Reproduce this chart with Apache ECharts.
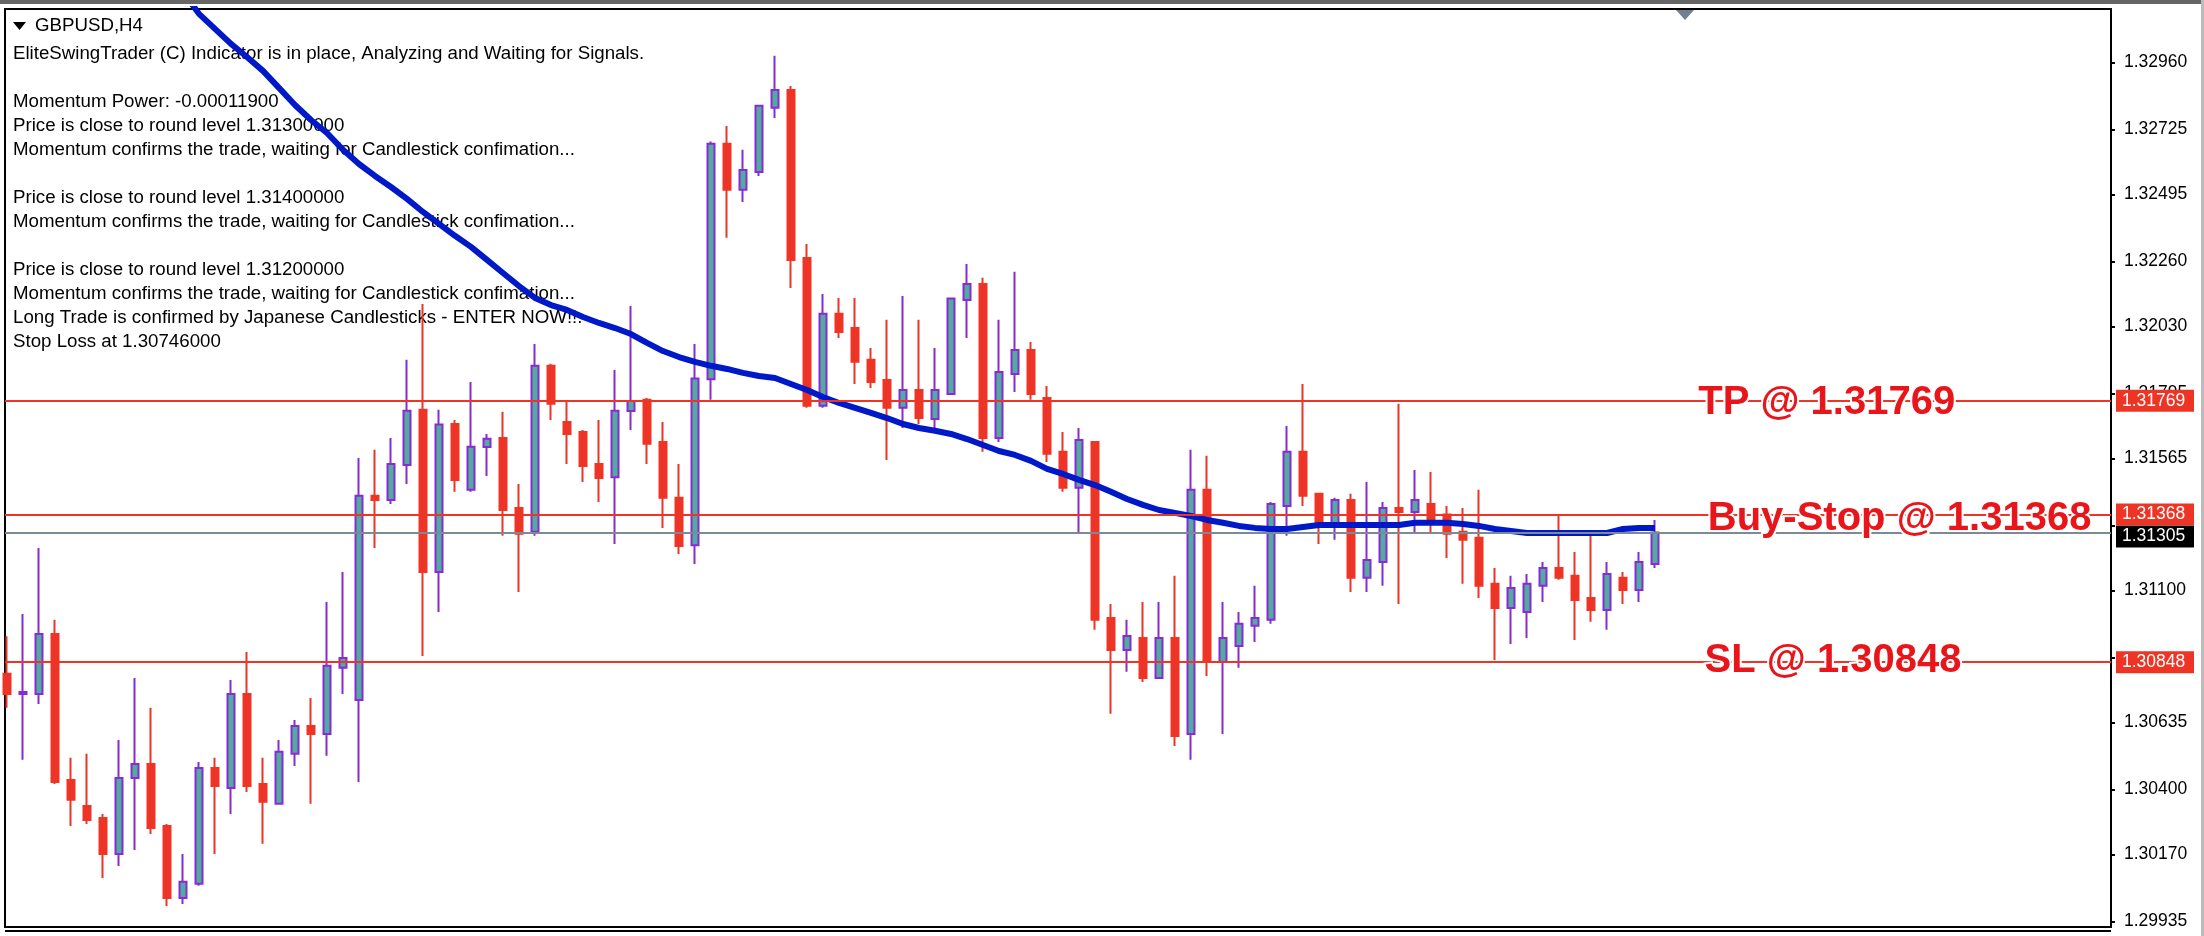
<!DOCTYPE html>
<html><head><meta charset="utf-8">
<style>html,body{margin:0;padding:0;background:#fff}#c{width:2204px;height:936px}</style>
<script src="https://cdn.jsdelivr.net/npm/echarts@6/dist/echarts.min.js"></script>
</head><body><div id="c"></div>
<script>
const symbolTitle = "GBPUSD,H4";
const statusLines = [
"EliteSwingTrader (C) Indicator is in place, Analyzing and Waiting for Signals.",
"",
"Momentum Power: -0.00011900",
"Price is close to round level 1.31300000",
"Momentum confirms the trade, waiting for Candlestick confimation...",
"",
"Price is close to round level 1.31400000",
"Momentum confirms the trade, waiting for Candlestick confimation...",
"",
"Price is close to round level 1.31200000",
"Momentum confirms the trade, waiting for Candlestick confimation...",
"Long Trade is confirmed by Japanese Candlesticks - ENTER NOW!!.",
"Stop Loss at 1.30746000"
];
const tickValues = [1.32960,1.32725,1.32495,1.32260,1.32030,1.31795,1.31565,1.31330,1.31100,1.30865,1.30635,1.30400,1.30170,1.29935];
const tickLabels = [1.32960,1.32725,1.32495,1.32260,1.32030,1.31795,1.31565,1.31100,1.30635,1.30400,1.30170,1.29935];
const opens = [
1.30807,1.30736,1.30736,1.30947,1.30433,1.30341,1.30299,1.30172,1.30440,1.30489,1.30271,1.30017,1.30067,1.30475,1.30405,1.30736,1.30419,1.30349,1.30525,1.30623,
1.30595,1.30828,1.30715,1.31434,1.31419,1.31543,1.31737,1.31166,1.31687,1.31455,1.31606,1.31638,1.31391,1.31307,1.31892,1.31694,1.31659,1.31546,1.31499,1.31733,
1.31772,1.31624,1.31427,1.31260,1.31845,1.32674,1.32512,1.32575,1.32801,1.32864,1.32272,1.31751,1.32075,1.32025,1.31913,1.31842,1.31744,1.31807,1.31705,1.31793,
1.32124,1.32180,1.31638,1.31863,1.31948,1.31779,1.31589,1.31462,1.31624,1.31004,1.30891,1.30933,1.30792,1.30933,1.30595,1.31455,1.30849,1.30905,1.30976,1.30997,
1.31398,1.31589,1.31441,1.31335,1.31419,1.31145,1.31201,1.31391,1.31377,1.31405,1.31368,1.31307,1.31286,1.31124,1.31039,1.31025,1.31117,1.31180,1.31152,1.31074,
1.31032,1.31145,1.31102,1.31194];
const closes = [
1.30736,1.30743,1.30947,1.30426,1.30363,1.30292,1.30172,1.30440,1.30489,1.30264,1.30017,1.30074,1.30475,1.30412,1.30736,1.30412,1.30356,1.30532,1.30623,1.30595,
1.30835,1.30863,1.31434,1.31419,1.31546,1.31734,1.31166,1.31685,1.31490,1.31607,1.31635,1.31384,1.31300,1.31892,1.31758,1.31652,1.31539,1.31497,1.31734,1.31768,
1.31617,1.31427,1.31257,1.31847,1.32674,1.32512,1.32582,1.32808,1.32864,1.32265,1.31751,1.32075,1.32011,1.31906,1.31835,1.31744,1.31807,1.31708,1.31807,1.32129,
1.32180,1.31638,1.31870,1.31948,1.31793,1.31582,1.31462,1.31631,1.30997,1.30891,1.30940,1.30792,1.30933,1.30588,1.31455,1.30856,1.30933,1.30983,1.31004,1.31405,
1.31589,1.31434,1.31342,1.31419,1.31145,1.31208,1.31391,1.31377,1.31419,1.31335,1.31300,1.31279,1.31117,1.31039,1.31109,1.31124,1.31180,1.31145,1.31067,1.31032,
1.31159,1.31102,1.31201,1.31305];
const lows = [
1.30687,1.30504,1.30701,1.30419,1.30271,1.30278,1.30088,1.30130,1.30186,1.30243,1.29989,1.29996,1.30060,1.30172,1.30313,1.30391,1.30208,1.30349,1.30482,1.30349,
1.30518,1.30736,1.30426,1.31250,1.31405,1.31476,1.30870,1.31025,1.31448,1.31448,1.31504,1.31293,1.31095,1.31293,1.31701,1.31546,1.31483,1.31412,1.31264,1.31666,
1.31546,1.31321,1.31229,1.31194,1.31772,1.32343,1.32469,1.32561,1.32765,1.32166,1.31744,1.31744,1.31990,1.31828,1.31814,1.31560,1.31673,1.31687,1.31666,1.31793,
1.31990,1.31589,1.31624,1.31800,1.31772,1.31553,1.31448,1.31300,1.30962,1.30666,1.30814,1.30778,1.30792,1.30553,1.30504,1.30799,1.30595,1.30828,1.30919,1.30983,
1.31293,1.31398,1.31264,1.31279,1.31095,1.31095,1.31117,1.31053,1.31300,1.31300,1.31215,1.31124,1.31074,1.30856,1.30912,1.30933,1.31060,1.31138,1.30926,1.30990,
1.30962,1.31053,1.31060,1.31180];
const highs = [
1.30939,1.31018,1.31250,1.30997,1.30511,1.30525,1.30313,1.30574,1.30792,1.30687,1.30278,1.30172,1.30496,1.30511,1.30785,1.30884,1.30511,1.30574,1.30644,1.30722,
1.31060,1.31166,1.31567,1.31596,1.31638,1.31913,1.32110,1.31737,1.31701,1.31835,1.31652,1.31730,1.31476,1.31969,1.31899,1.31768,1.31666,1.31701,1.31877,1.32103,
1.31779,1.31694,1.31546,1.31969,1.32682,1.32737,1.32653,1.32808,1.32984,1.32878,1.32321,1.32145,1.32131,1.32131,1.31955,1.32054,1.32138,1.32054,1.31955,1.32129,
1.32251,1.32202,1.32054,1.32223,1.31976,1.31821,1.31659,1.31673,1.31624,1.31053,1.30997,1.31060,1.31060,1.31152,1.31596,1.31575,1.31060,1.31025,1.31117,1.31412,
1.31680,1.31828,1.31441,1.31427,1.31441,1.31483,1.31412,1.31758,1.31525,1.31518,1.31398,1.31391,1.31455,1.31180,1.31152,1.31159,1.31201,1.31367,1.31236,1.31293,
1.31201,1.31166,1.31236,1.31349];
const maFirstBar = 11;
const maValues = [
1.33209,1.33132,1.33079,1.33026,1.32980,1.32931,1.32871,1.32811,1.32758,1.32712,1.32653,1.32603,1.32561,1.32522,1.32480,1.32434,1.32392,1.32350,1.32311,1.32265,
1.32219,1.32173,1.32131,1.32106,1.32089,1.32064,1.32043,1.32025,1.32004,1.31973,1.31944,1.31923,1.31906,1.31892,1.31881,1.31867,1.31856,1.31849,1.31828,1.31807,
1.31782,1.31761,1.31744,1.31726,1.31708,1.31687,1.31673,1.31663,1.31652,1.31634,1.31613,1.31592,1.31578,1.31557,1.31529,1.31511,1.31490,1.31472,1.31448,1.31423,
1.31402,1.31384,1.31374,1.31363,1.31349,1.31339,1.31328,1.31321,1.31317,1.31317,1.31324,1.31331,1.31331,1.31331,1.31331,1.31331,1.31331,1.31339,1.31339,1.31339,
1.31335,1.31328,1.31317,1.31310,1.31303,1.31303,1.31303,1.31303,1.31303,1.31303,1.31317,1.31321,1.31321];
const levelValues = [1.31769,1.31368,1.30848];
const levelNames = ["TP @ 1.31769","Buy-Stop @ 1.31368","SL @ 1.30848"];
const labelBars = [105.7,106.3,106.1];
const labelPrices = [1.31761,1.31354,1.30852];
const lastPrice = 1.31305;

const RED="#ee3424",TEAL="#53aaa0",PURPLE="#8a2bd2",BLUE="#0019c8",GREY="#7c8a96",TEXTRED="#e8161a";
const chart = echarts.init(document.getElementById('c'));
const tag = (bg,dy)=>({show:true,position:'end',distance:5,offset:[0,dy],formatter:p=>p.value.toFixed(5),
  color:'#fff',backgroundColor:bg,fontFamily:'Liberation Sans',fontSize:17.5,padding:[2,6,2,6],width:66,height:18,lineHeight:18,align:'left'});
chart.setOption({
  animation:false,
  backgroundColor:'#fff',
  title:{text:statusLines.join("\n"),left:8,top:37,z:0,
    textStyle:{fontFamily:'Liberation Sans',fontSize:18.7,fontWeight:'normal',color:'#000',lineHeight:24}},
  grid:{left:5,right:93,top:9,bottom:9,show:true,backgroundColor:'#fff',borderColor:'#000',borderWidth:2},
  xAxis:{type:'value',min:-0.125,max:131.5,show:false},
  yAxis:{type:'value',position:'right',min:1.29915,max:1.33149,
    axisLine:{show:true,onZero:false,lineStyle:{color:'#000',width:2}},
    axisTick:{show:true,length:4,customValues:tickValues,lineStyle:{color:'#000',width:2}},
    axisLabel:{show:true,customValues:tickLabels,formatter:v=>v.toFixed(5),margin:13,color:'#000',fontFamily:'Liberation Sans',fontSize:17.5},
    splitLine:{show:false}},
  series:[
    {type:'line',name:'last',z:1,data:[],markLine:{silent:true,precision:5,symbol:'none',lineStyle:{color:GREY,width:2,type:'solid'},
      label:tag('#000',4),data:[{yAxis:lastPrice}]}},
    {type:'candlestick',name:'GBPUSD',z:2,barWidth:8,encode:{x:0,y:[1,2,3,4]},
      data:opens.map((o,i)=>[i,o,closes[i],lows[i],highs[i]]),
      itemStyle:{color:TEAL,color0:RED,borderColor:PURPLE,borderColor0:RED,borderWidth:2}},
    {type:'line',name:'levels',z:3,data:[],markLine:{silent:true,precision:5,symbol:'none',lineStyle:{color:RED,width:2,type:'solid'},
      label:tag(RED,0),data:levelValues.map(v=>({yAxis:v}))}},
    {type:'line',name:'MA',z:4,showSymbol:false,clip:true,lineStyle:{color:BLUE,width:6},
      data:maValues.map((v,i)=>[i+maFirstBar,v])},
    {type:'scatter',name:'notes',z:5,symbolSize:0,clip:false,itemStyle:{opacity:1},
      data:labelPrices.map((v,i)=>[labelBars[i],v,levelNames[i]]),
      label:{show:true,position:'right',distance:0,opacity:1,formatter:p=>p.value[2],fontFamily:'Liberation Sans',fontSize:40,fontWeight:'bold',
        color:TEXTRED,textBorderColor:'#fff',textBorderWidth:4}}
  ],
  graphic:[
    {type:'rect',shape:{x:0,y:0,width:2204,height:4},style:{fill:'#666'},z:10},
    {type:'rect',shape:{x:2201,y:0,width:3,height:936},style:{fill:'#bbb'},z:10},
    {type:'rect',shape:{x:5,y:930,width:2106,height:2},style:{fill:'#000'},z:10},
    {type:'polygon',shape:{points:[[13,22],[26,22],[19.5,30]]},style:{fill:'#000'},z:10},
    {type:'polygon',shape:{points:[[1676,10],[1694,10],[1685,20]]},style:{fill:'#708090'},z:10},
    {type:'text',x:35,y:16,style:{text:symbolTitle,font:'18.7px "Liberation Sans"',fill:'#000'},z:10}
  ]
});
</script></body></html>
